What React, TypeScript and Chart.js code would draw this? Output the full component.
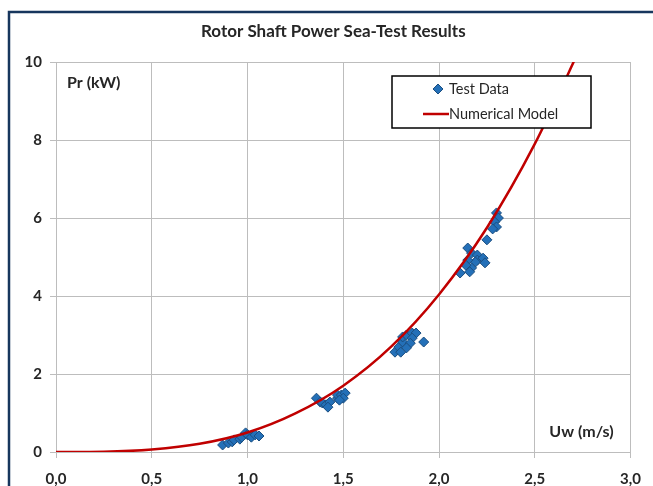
import React, { useEffect, useRef } from "react";
import { Chart, registerables } from "chart.js";
Chart.register(...registerables);

const TITLE = "Rotor Shaft Power Sea-Test Results";
const Y_LABEL = "Pr (kW)";
const X_LABEL = "Uw (m/s)";
const SERIES_NAMES = ["Test Data", "Numerical Model"];

// Test data: wind speed Uw (m/s) and rotor power Pr (kW)
const testU = [
  0.87, 0.9, 0.92, 0.93, 0.96, 0.97, 0.99, 1.0, 1.02, 1.04, 1.06,
  1.36, 1.38, 1.39, 1.41, 1.43, 1.42, 1.47, 1.47, 1.49, 1.51, 1.5, 1.48,
  1.77, 1.79, 1.81, 1.81, 1.83, 1.86, 1.88, 1.86, 1.85, 1.83, 1.92, 1.8,
  2.3, 2.31, 2.29, 2.3, 2.28, 2.25, 2.15, 2.17, 2.2, 2.2, 2.23, 2.24, 2.19, 2.15, 2.17, 2.16, 2.11, 2.14,
];
const testP = [
  0.18, 0.23, 0.26, 0.31, 0.33, 0.38, 0.49, 0.44, 0.38, 0.44, 0.41,
  1.38, 1.28, 1.26, 1.21, 1.28, 1.15, 1.38, 1.46, 1.46, 1.51, 1.38, 1.33,
  2.56, 2.69, 2.82, 2.95, 3.0, 3.05, 3.05, 2.92, 2.79, 2.67, 2.82, 2.56,
  6.13, 6.0, 5.9, 5.77, 5.72, 5.44, 5.23, 5.1, 5.05, 4.92, 4.97, 4.85, 4.87, 4.92, 4.72, 4.62, 4.59, 4.79,
];

// Numerical model curve
const modelU = [0, 0.25, 0.5, 0.75, 1.0, 1.25, 1.5, 1.75, 2.0, 2.25, 2.5, 2.75];
const modelP = [0, 0.008, 0.063, 0.21, 0.5, 0.99, 1.7, 2.7, 4.04, 5.75, 7.9, 10.5];

const X_MIN = 0, X_MAX = 3, X_STEP = 0.5;
const Y_MIN = 0, Y_MAX = 10, Y_STEP = 2;

const FONT = "Lato";
const MARKER_FILL = "#2470B8";
const MARKER_EDGE = "#1B4E80";
const LINE_COLOR = "#C00000";
const GRID = "#bdbdbd";
const TEXT = "#262626";
const FRAME = "#17365D";

function drawDiamond(ctx: CanvasRenderingContext2D, x: number, y: number, r: number) {
  ctx.beginPath();
  ctx.moveTo(x, y - r);
  ctx.lineTo(x + r, y);
  ctx.lineTo(x, y + r);
  ctx.lineTo(x - r, y);
  ctx.closePath();
  ctx.fillStyle = MARKER_FILL;
  ctx.fill();
  ctx.strokeStyle = MARKER_EDGE;
  ctx.lineWidth = 1;
  ctx.stroke();
}

const decorPlugin = {
  id: "decor",
  beforeDraw(chart: any) {
    const ctx = chart.ctx;
    ctx.save();
    ctx.fillStyle = "#ffffff";
    ctx.fillRect(0, 0, chart.width, chart.height);
    ctx.restore();
  },
  afterDraw(chart: any) {
    const ctx = chart.ctx as CanvasRenderingContext2D;
    const a = chart.chartArea;
    ctx.save();
    // title
    ctx.fillStyle = TEXT;
    ctx.font = `bold 17px ${FONT}`;
    ctx.textAlign = "center";
    ctx.textBaseline = "middle";
    ctx.fillText(TITLE, (a.left + a.right) / 2 - 10, a.top - 30);

    // axis labels inside plot
    ctx.font = `bold 16px ${FONT}`;
    ctx.textAlign = "left";
    ctx.fillText(Y_LABEL, a.left + 11, a.top + 21);
    ctx.textAlign = "right";
    ctx.fillText(X_LABEL, a.right - 17, a.bottom - 20);

    // legend box
    const lx = a.left + 336, ly = a.top + 14, lw = 199, lh = 52;
    ctx.fillStyle = "#ffffff";
    ctx.fillRect(lx, ly, lw, lh);
    ctx.strokeStyle = "#000000";
    ctx.lineWidth = 1.5;
    ctx.strokeRect(lx, ly, lw, lh);
    drawDiamond(ctx, lx + 46, ly + 13, 5);
    ctx.strokeStyle = LINE_COLOR;
    ctx.lineWidth = 2.5;
    ctx.beginPath();
    ctx.moveTo(lx + 31, ly + 38);
    ctx.lineTo(lx + 57, ly + 38);
    ctx.stroke();
    ctx.fillStyle = TEXT;
    ctx.font = `14.5px ${FONT}`;
    ctx.textAlign = "left";
    ctx.textBaseline = "middle";
    ctx.fillText(SERIES_NAMES[0], lx + 57, ly + 13);
    ctx.fillText(SERIES_NAMES[1], lx + 57, ly + 38);

    // slide frame
    ctx.strokeStyle = FRAME;
    ctx.lineWidth = 2.5;
    ctx.beginPath();
    ctx.moveTo(chart.width + 2, 12);
    ctx.lineTo(9, 12);
    ctx.lineTo(9, chart.height + 2);
    ctx.stroke();
    ctx.restore();
  },
};

export default function App() {
  const ref = useRef<HTMLCanvasElement | null>(null);
  useEffect(() => {
    if (!ref.current) return;
    const testPts = testU.map((u, i) => ({ x: u, y: testP[i] }));
    const modelPts = modelU.map((u, i) => ({ x: u, y: modelP[i] }));
    const chart = new Chart(ref.current, {
      type: "scatter",
      data: {
        datasets: [
          {
            label: SERIES_NAMES[0],
            data: testPts,
            pointStyle: "rectRot",
            pointRadius: 5,
            backgroundColor: MARKER_FILL,
            borderColor: MARKER_EDGE,
            borderWidth: 1,
            order: 1,
          },
          {
            label: SERIES_NAMES[1],
            data: modelPts,
            showLine: true,
            pointRadius: 0,
            borderColor: LINE_COLOR,
            backgroundColor: LINE_COLOR,
            borderWidth: 2.5,
            cubicInterpolationMode: "monotone",
            order: 0,
          } as any,
        ],
      },
      options: {
        animation: false,
        responsive: false,
        devicePixelRatio: 1,
        layout: { padding: { left: 0, right: 22, top: 62, bottom: 0 } },
        plugins: {
          legend: { display: false },
          tooltip: { enabled: false },
          title: { display: false },
        },
        scales: {
          x: {
            type: "linear",
            min: X_MIN,
            max: X_MAX,
            ticks: {
              stepSize: X_STEP,
              color: TEXT,
              font: { family: FONT, size: 15, weight: "bold" },
              padding: 12,
              callback: (v: any) => Number(v).toFixed(1).replace(".", ","),
            },
            grid: { color: GRID, lineWidth: 1, tickLength: 6 },
            border: { color: GRID },
            afterFit: (s: any) => { s.height = 34; },
          },
          y: {
            type: "linear",
            min: Y_MIN,
            max: Y_MAX,
            ticks: {
              stepSize: Y_STEP,
              color: TEXT,
              font: { family: FONT, size: 15, weight: "bold" },
              padding: 8,
            },
            grid: { color: GRID, lineWidth: 1, tickLength: 6 },
            border: { color: GRID },
            afterFit: (s: any) => { s.width = 56; },
          },
        },
      },
      plugins: [decorPlugin],
    } as any);
    return () => chart.destroy();
  }, []);
  return (
    <div style={{ position: "fixed", left: 0, top: 0, width: 653, height: 486, background: "#fff" }}>
      <canvas ref={ref} width={653} height={486} style={{ display: "block" }} />
    </div>
  );
}
